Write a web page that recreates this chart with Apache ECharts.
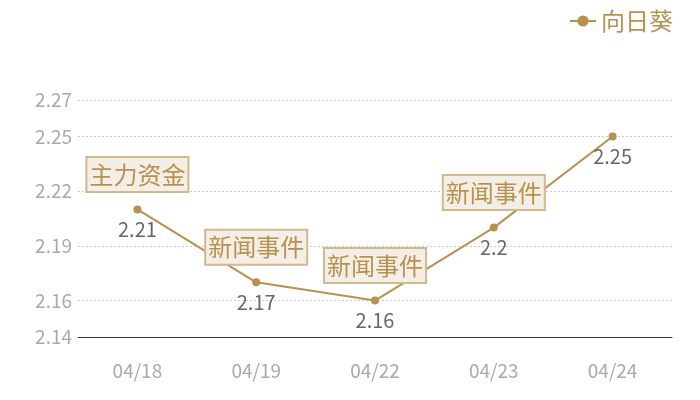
<!DOCTYPE html>
<html>
<head>
<meta charset="utf-8">
<script src="https://cdn.jsdelivr.net/npm/echarts@6/dist/echarts.min.js"></script>
<style>
  html, body { margin: 0; padding: 0; background: #fff; }
  #chart { width: 700px; height: 400px; }
</style>
</head>
<body>
<div id="chart"></div>
<script>
"use strict";
const days = ["04/18", "04/19", "04/22", "04/23", "04/24"];
const prices = [2.21, 2.17, 2.16, 2.2, 2.25];
const notes = ["主力资金", "新闻事件", "新闻事件", "新闻事件", ""];
const seriesName = "向日葵";

const gold = "#b8914f";
const font = "'Noto Sans CJK SC', 'Noto Sans', sans-serif";

// annotation boxes sit above the points that carry a note
const marks = notes
  .map((n, i) => ({ name: n, coord: [i, prices[i]] }))
  .filter((m) => m.name);

const chart = echarts.init(document.getElementById("chart"));
chart.setOption({
  animation: false,
  textStyle: { fontFamily: font },
  legend: {
    right: 22, top: 4,
    itemWidth: 26, itemHeight: 14, itemGap: 6,
    textStyle: { color: gold, fontSize: 24, fontFamily: font },
    data: [seriesName],
  },
  grid: { left: 78, right: 28, top: 100, bottom: 63 },
  xAxis: {
    type: "category", data: days,
    axisLine: { lineStyle: { color: "#333" } },
    axisTick: { show: false },
    axisLabel: { color: "#aaa", fontSize: 19, margin: 24 },
  },
  yAxis: {
    type: "value", min: 2.14, max: 2.27,
    axisLine: { show: false }, axisTick: { show: false },
    axisLabel: { color: "#aaa", fontSize: 19, margin: 6 },
    splitLine: { lineStyle: { color: "#ccc", type: [2, 2] } },
  },
  series: [{
    name: seriesName, type: "line", data: prices,
    symbol: "circle", symbolSize: 8,
    itemStyle: { color: gold },
    lineStyle: { color: gold, width: 2 },
    label: { show: true, position: "bottom", distance: 6, color: "#666", fontSize: 20 },
    markPoint: {
      symbol: "rect", symbolSize: 1,
      itemStyle: { color: "transparent" },
      label: {
        show: true, offset: [0, -35],
        formatter: (p) => p.name,
        color: gold, fontSize: 24, lineHeight: 26,
        backgroundColor: "#f3eee6",
        borderColor: "#d2b88e", borderWidth: 2,
        padding: [4, 2, 3, 2],
      },
      data: marks,
    },
  }],
});
</script>
</body>
</html>
